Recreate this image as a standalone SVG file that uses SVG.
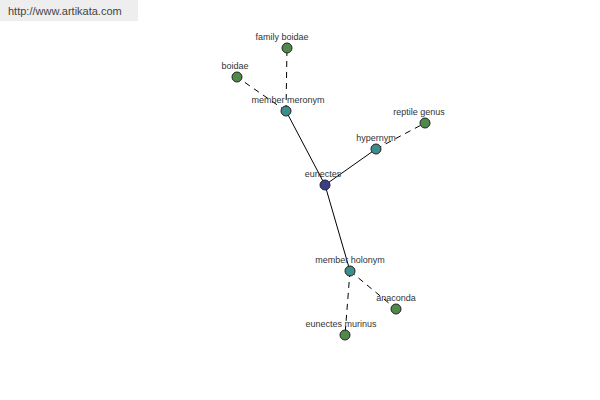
<svg xmlns="http://www.w3.org/2000/svg" width="600" height="400" viewBox="0 0 600 400">
<style>
text{font-family:"Liberation Sans",Arial,sans-serif;font-size:9px;fill:#333;text-anchor:middle}
.n{stroke:#222;stroke-width:1}
.g{fill:#4f8a4a}
.t{fill:#3f8c8c}
.b{fill:#3b3f8a}
.s{stroke:#000;stroke-width:1;fill:none}
.d{stroke:#000;stroke-width:1;fill:none;stroke-dasharray:6,5}
</style>
<rect width="600" height="400" fill="#fff"/>
<rect x="0" y="0" width="138" height="21" fill="#eeeeee"/>
<text x="8" y="15" style="text-anchor:start;font-size:11px;fill:#444">http://www.artikata.com</text>
<g id="connectors">
<line class="s" x1="325" y1="185" x2="286" y2="111"/>
<line class="s" x1="325" y1="185" x2="376" y2="149"/>
<line class="s" x1="325" y1="185" x2="350" y2="271"/>
<line class="d" x1="286" y1="111" x2="287" y2="48"/>
<line class="d" x1="286" y1="111" x2="237" y2="77"/>
<line class="d" x1="376" y1="149" x2="425" y2="123"/>
<line class="d" x1="350" y1="271" x2="396" y2="309"/>
<line class="d" x1="350" y1="271" x2="345" y2="335"/>
</g>
<g id="family-boidae"><circle class="n g" cx="287" cy="48" r="5"/><text x="282" y="40">family boidae</text></g>
<g id="boidae"><circle class="n g" cx="237" cy="77" r="5"/><text x="235" y="69">boidae</text></g>
<g id="member-meronym"><circle class="n t" cx="286" cy="111" r="5"/><text x="288" y="103">member meronym</text></g>
<g id="reptile-genus"><circle class="n g" cx="425" cy="123" r="5"/><text x="419" y="115">reptile genus</text></g>
<g id="hypernym"><circle class="n t" cx="376" cy="149" r="5"/><text x="376" y="141">hypernym</text></g>
<g id="eunectes"><circle class="n b" cx="325" cy="185" r="5"/><text x="323" y="177">eunectes</text></g>
<g id="member-holonym"><circle class="n t" cx="350" cy="271" r="5"/><text x="350" y="263">member holonym</text></g>
<g id="anaconda"><circle class="n g" cx="396" cy="309" r="5"/><text x="396" y="301">anaconda</text></g>
<g id="eunectes-murinus"><circle class="n g" cx="345" cy="335" r="5"/><text x="341" y="327">eunectes murinus</text></g>
</svg>
